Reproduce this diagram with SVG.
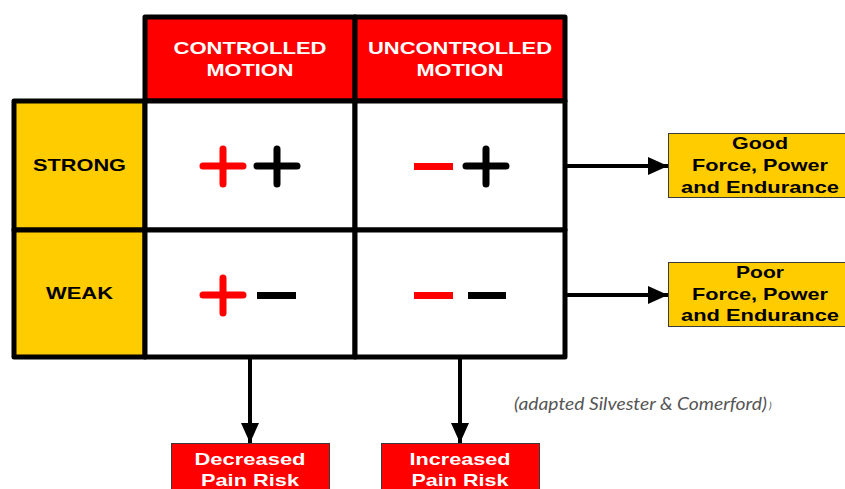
<svg xmlns="http://www.w3.org/2000/svg" width="845" height="489" viewBox="0 0 845 489">
<style>
.grid{stroke:#000;stroke-width:5;stroke-linejoin:round}
.red{fill:#ff0000}
.yel{fill:#ffcc00}
.wht{fill:#ffffff}
.box{stroke:#3a3a3a;stroke-width:1}
.t{font-family:"Liberation Sans",Arial,sans-serif;font-weight:bold;font-size:17px;text-anchor:middle}
.tw{fill:#ffffff}
.tb{fill:#000000}
.conn{stroke:#000;stroke-width:4;fill:none}
.sym{stroke-width:7;stroke-linecap:round;fill:none}
.cite{font-family:Lato,"Liberation Sans",sans-serif;font-style:italic;font-size:18px;fill:#555555}
</style>
<defs>
<marker id="ah" markerUnits="userSpaceOnUse" markerWidth="20" markerHeight="18" refX="20" refY="9" orient="auto">
<path d="M0,0 L20,9 L0,18 z" fill="#000"/>
</marker>
</defs>
<rect width="845" height="489" fill="#fff"/>

<g id="connectors">
<line class="conn" x1="567" y1="166" x2="668" y2="166" marker-end="url(#ah)"/>
<line class="conn" x1="567" y1="295" x2="668" y2="295" marker-end="url(#ah)"/>
<line class="conn" x1="250" y1="359" x2="250" y2="443" marker-end="url(#ah)"/>
<line class="conn" x1="460" y1="359" x2="460" y2="443" marker-end="url(#ah)"/>
</g>

<g id="hdr-controlled">
<rect class="grid red" x="145" y="17" width="210" height="84"/>
<text class="t tw" x="250" y="54" textLength="153" lengthAdjust="spacingAndGlyphs">CONTROLLED</text>
<text class="t tw" x="250" y="76" textLength="87" lengthAdjust="spacingAndGlyphs">MOTION</text>
</g>
<g id="hdr-uncontrolled">
<rect class="grid red" x="355" y="17" width="210" height="84"/>
<text class="t tw" x="460" y="54" textLength="184" lengthAdjust="spacingAndGlyphs">UNCONTROLLED</text>
<text class="t tw" x="460" y="76" textLength="87" lengthAdjust="spacingAndGlyphs">MOTION</text>
</g>
<g id="row-strong">
<rect class="grid yel" x="14" y="101" width="131" height="129"/>
<text class="t tb" x="79.5" y="171" textLength="93" lengthAdjust="spacingAndGlyphs">STRONG</text>
</g>
<g id="row-weak">
<rect class="grid yel" x="14" y="230" width="131" height="127"/>
<text class="t tb" x="79.5" y="299" textLength="67" lengthAdjust="spacingAndGlyphs">WEAK</text>
</g>
<g id="cell-strong-controlled">
<rect class="grid wht" x="145" y="101" width="210" height="129"/>
<path class="sym" stroke="#ff0000" d="M203,166 H243 M223,149 V184"/>
<path class="sym" stroke="#000" d="M257,166 H297 M277,149 V184"/>
</g>
<g id="cell-strong-uncontrolled">
<rect class="grid wht" x="355" y="101" width="210" height="129"/>
<rect x="414" y="163" width="39" height="7" fill="#ff0000"/>
<path class="sym" stroke="#000" d="M466,166 H506 M486,149 V184"/>
</g>
<g id="cell-weak-controlled">
<rect class="grid wht" x="145" y="230" width="210" height="127"/>
<path class="sym" stroke="#ff0000" d="M203,295 H243 M223,278 V313"/>
<rect x="257" y="292" width="39" height="7" fill="#000"/>
</g>
<g id="cell-weak-uncontrolled">
<rect class="grid wht" x="355" y="230" width="210" height="127"/>
<rect x="414" y="292" width="39" height="7" fill="#ff0000"/>
<rect x="468" y="292" width="38" height="7" fill="#000"/>
</g>

<g id="out-good">
<rect class="yel box" x="668.5" y="133.5" width="182" height="64"/>
<text class="t tb" x="760" y="149" textLength="56" lengthAdjust="spacingAndGlyphs">Good</text>
<text class="t tb" x="760" y="171" textLength="136" lengthAdjust="spacingAndGlyphs">Force, Power</text>
<text class="t tb" x="760" y="193" textLength="158" lengthAdjust="spacingAndGlyphs">and Endurance</text>
</g>
<g id="out-poor">
<rect class="yel box" x="668.5" y="262.5" width="182" height="64"/>
<text class="t tb" x="760" y="278" textLength="48" lengthAdjust="spacingAndGlyphs">Poor</text>
<text class="t tb" x="760" y="300" textLength="136" lengthAdjust="spacingAndGlyphs">Force, Power</text>
<text class="t tb" x="760" y="321" textLength="158" lengthAdjust="spacingAndGlyphs">and Endurance</text>
</g>
<g id="out-decreased">
<rect class="red box" x="171.5" y="443.5" width="158" height="50"/>
<text class="t tw" x="250" y="465" textLength="111" lengthAdjust="spacingAndGlyphs">Decreased</text>
<text class="t tw" x="250" y="486" textLength="98" lengthAdjust="spacingAndGlyphs">Pain Risk</text>
</g>
<g id="out-increased">
<rect class="red box" x="381.5" y="443.5" width="158" height="50"/>
<text class="t tw" x="460" y="465" textLength="101" lengthAdjust="spacingAndGlyphs">Increased</text>
<text class="t tw" x="460" y="486" textLength="97" lengthAdjust="spacingAndGlyphs">Pain Risk</text>
</g>

<text class="cite" x="514" y="410" textLength="253" lengthAdjust="spacingAndGlyphs">(adapted Silvester &amp; Comerford)</text>
<text class="cite" x="769" y="409" style="font-size:10px">)</text>
</svg>
